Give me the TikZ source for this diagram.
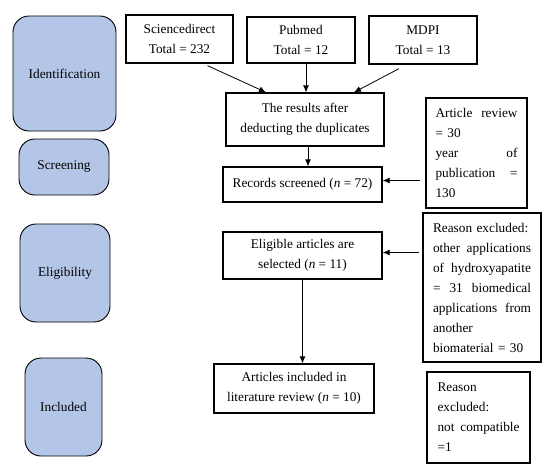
\documentclass[tikz,border=0pt]{standalone}
\usepackage{fontspec}
\setmainfont{Liberation Serif}
\usepackage{tikz}
\usetikzlibrary{arrows.meta,calc}
\definecolor{stageblue}{HTML}{B4C6E7}
\newcommand{\boxfont}{\fontsize{13.3}{20}\selectfont}

\begin{document}
\begin{tikzpicture}[x=1pt, y=-1pt,
  stage/.style={draw=black, fill=stageblue, rounded corners=16pt,
    line width=0.9pt, align=center, font=\boxfont},
  recbox/.style={draw=black, line width=1.3pt, align=center,
    inner sep=0pt, font=\boxfont},
  exbox/.style={draw=black, line width=1.3pt, align=left,
    inner ysep=0pt, font=\boxfont},
  arr/.style={-{Latex[length=7pt,width=6pt]}, line width=0.8pt}]
\useasboundingbox (0,0) rectangle (550,474);
% ---------------- stages ----------------
\node[stage, minimum width=103pt, minimum height=115pt] (ident) at (64.5,73.5) {Identification};
\node[stage, minimum width=90pt, minimum height=56pt] (screen) at (64,167) {Screening};
\node[stage, minimum width=90pt, minimum height=98pt] (eligib) at (65,273) {Eligibility};
\node[stage, minimum width=77pt, minimum height=98pt] (incl) at (63.5,407) {Included};
% ---------------- sources ----------------
\node[recbox, minimum width=107pt, minimum height=48pt] (sd) at (179.5,39)
  {Sciencedirect\\ Total = 232};
\node[recbox, minimum width=108pt, minimum height=46pt] (pm) at (301,40)
  {Pubmed\\ Total = 12};
\node[recbox, minimum width=108pt, minimum height=48pt] (mdpi) at (423,40)
  {MDPI\\ Total = 13};
% ---------------- flow ----------------
\node[recbox, minimum width=158pt, minimum height=53pt] (res) at (305,119.5)
  {The results after\\ deducting the duplicates};
\node[recbox, minimum width=159pt, minimum height=35pt] (rec) at (302.5,184.5)
  {Records screened (\textit{n} = 72)};
\node[recbox, minimum width=159pt, minimum height=47pt] (elig) at (302.5,255.5)
  {Eligible articles are\\ selected (\textit{n} = 11)};
\node[recbox, minimum width=160pt, minimum height=49pt] (art) at (294,388.5)
  {Articles included in\\ literature review (\textit{n} = 10)};
% ---------------- exclusions ----------------
\node[exbox, text width=82pt, inner xsep=9.5pt, minimum height=110pt] (rev) at (476.5,153)
  {Article \hfill review\\ = 30\\ year \hfill of\\ publication \hfill =\\ 130};
\node[exbox, text width=98pt, inner xsep=10pt, minimum height=149pt] (exa) at (482,287.5)
  {Reason excluded:\\ other \hfill applications\\ of \hfill hydroxyapatite\\
   = \hfill 31 \hfill biomedical\\ applications \hfill from\\ another\\ biomaterial = 30};
\node[exbox, text width=82pt, inner xsep=10.5pt, minimum height=91pt] (exb) at (478.5,417.5)
  {Reason\\ excluded:\\ not \hfill compatible\\ =1};
% ---------------- arrows ----------------
\draw[arr] ($(sd.south)+(28,2)$) -- ($(res.north)+(-39,0)$);
\draw[arr] ($(pm.south)+(5,0)$) -- ($(res.north)+(1,0)$);
\draw[arr] ($(mdpi.south)+(-24,4)$) -- ($(res.north)+(49,0)$);
\draw[arr] ($(res.south)+(3,0)$) -- ($(rec.north)+(5.5,0)$);
\draw[arr] ($(rev.west |- rec.east)+(-5,-4)$) -- ($(rec.east)+(0,-4)$);
\draw[arr] ($(exa.west |- elig.east)+(-3,-3)$) -- ($(elig.east)+(0,-3)$);
\draw[arr] (elig.south) -- (elig.south |- art.north);
\end{tikzpicture}
\end{document}
